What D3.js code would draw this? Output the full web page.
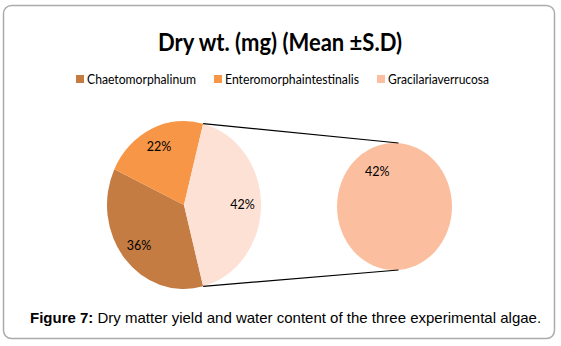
<!DOCTYPE html>
<html>
<head>
<meta charset="utf-8">
<script src="https://cdn.jsdelivr.net/npm/d3@7"></script>
<style>
  body { margin: 0; background: #fff; }
  svg { display: block; }
</style>
</head>
<body>
<script>
// Chart data.
const species = ["Chaetomorphalinum", "Enteromorphaintestinalis", "Gracilariaverrucosa"];
const shares = [36, 22, 42];
const colors = ["#C47C43", "#F79646", "#FDE1D5"];
const legendColors = ["#C47C43", "#F79646", "#FBBF9F"];
const splitColor = "#FBBF9F";
const titleText = "Dry wt. (mg) (Mean \u00B1S.D)";
const captionBold = "Figure 7:";
const captionText = " Dry matter yield and water content of the three experimental algae.";

const W = 561, H = 346;
const svg = d3.select("body").append("svg").attr("width", W).attr("height", H);

// Frame.
svg.append("rect")
    .attr("x", 3.5).attr("y", 5.5).attr("width", 551).attr("height", 333)
    .attr("rx", 8).attr("fill", "#fff").attr("stroke", "#ABABAB").attr("stroke-width", 1.5);

// Title (Calibri-like narrow bold).
svg.append("text")
    .attr("x", 280).attr("y", 51)
    .attr("text-anchor", "middle")
    .attr("font-family", "Lato, 'Open Sans', sans-serif")
    .attr("font-weight", "bold").attr("font-size", 24.5)
    .attr("textLength", 244).attr("lengthAdjust", "spacingAndGlyphs")
    .attr("fill", "#000")
    .text(titleText);

// Legend.
const legendX = [76, 214, 377];
const legendW = [109, 134, 101];
const legend = svg.append("g").attr("font-family", "Lato, 'Open Sans', sans-serif").attr("font-size", 12.5);
species.forEach((s, i) => {
    legend.append("rect")
        .attr("x", legendX[i]).attr("y", 75).attr("width", 8).attr("height", 8)
        .attr("fill", legendColors[i]);
    legend.append("text")
        .attr("x", legendX[i] + 11).attr("y", 83.5)
        .attr("textLength", legendW[i]).attr("lengthAdjust", "spacingAndGlyphs")
        .attr("fill", "#000")
        .text(s);
});

// Main pie (slightly stretched vertically).
const cx = 184, cy = 205, rx = 77, ry = 84;
const split = 2; // index of the slice pulled into the second pie
const total = d3.sum(shares);
// Rotate so that the split slice is centred on the right-hand side.
const before = d3.sum(shares.slice(0, split)) / total * 2 * Math.PI;
const half = shares[split] / total * Math.PI;
const start = Math.PI / 2 - half - before;
const pie = d3.pie().sort(null).startAngle(start).endAngle(start + 2 * Math.PI);
const arcs = pie(shares);
const arc = d3.arc().innerRadius(0).outerRadius(rx);
const labelArc = d3.arc().innerRadius(rx * 0.76).outerRadius(rx * 0.76);

const g = svg.append("g").attr("transform", `translate(${cx},${cy}) scale(1,${ry / rx})`);
g.selectAll("path").data(arcs).join("path")
    .attr("d", arc)
    .attr("fill", (d, i) => colors[i]);

svg.selectAll(".pieLabel").data(arcs).join("text")
    .attr("class", "pieLabel")
    .attr("x", d => cx + labelArc.centroid(d)[0])
    .attr("y", d => cy + labelArc.centroid(d)[1] * ry / rx + 4)
    .attr("text-anchor", "middle")
    .attr("font-family", "Lato, 'Open Sans', sans-serif").attr("font-size", 12.5)
    .attr("fill", "#000")
    .text(d => Math.round(d.data / total * 100) + "%");

// Second pie (the split slice as a whole circle).
const cx2 = 394.5, cy2 = 206.5, rx2 = 57.5, ry2 = 63.5;
svg.append("ellipse")
    .attr("cx", cx2).attr("cy", cy2).attr("rx", rx2).attr("ry", ry2)
    .attr("fill", splitColor);
svg.append("text")
    .attr("x", cx2 - rx2 * 0.3).attr("y", cy2 - ry2 * 0.54 + 4)
    .attr("text-anchor", "middle")
    .attr("font-family", "Lato, 'Open Sans', sans-serif").attr("font-size", 12.5)
    .attr("fill", "#000")
    .text(Math.round(shares[split] / total * 100) + "%");

// Connector lines from the split slice edges to the second pie.
const sl = arcs[split];
const edge = a => [cx + rx * Math.sin(a), cy - ry * Math.cos(a)];
const p1 = edge(sl.startAngle), p2 = edge(sl.endAngle);
const q1 = [cx2 + 4, cy2 - ry2], q2 = [cx2 + 4, cy2 + ry2];
svg.append("line")
    .attr("x1", p1[0]).attr("y1", p1[1]).attr("x2", q1[0]).attr("y2", q1[1])
    .attr("stroke", "#000").attr("stroke-width", 1.2);
svg.append("line")
    .attr("x1", p2[0]).attr("y1", p2[1]).attr("x2", q2[0]).attr("y2", q2[1])
    .attr("stroke", "#000").attr("stroke-width", 1.2);

// Caption.
const cap = svg.append("text")
    .attr("x", 30).attr("y", 323)
    .attr("font-family", "'Liberation Sans', Arial, sans-serif").attr("font-size", 15)
    .attr("fill", "#000");
cap.append("tspan").attr("font-weight", "bold").text(captionBold);
cap.append("tspan").text(captionText);
</script>
</body>
</html>
